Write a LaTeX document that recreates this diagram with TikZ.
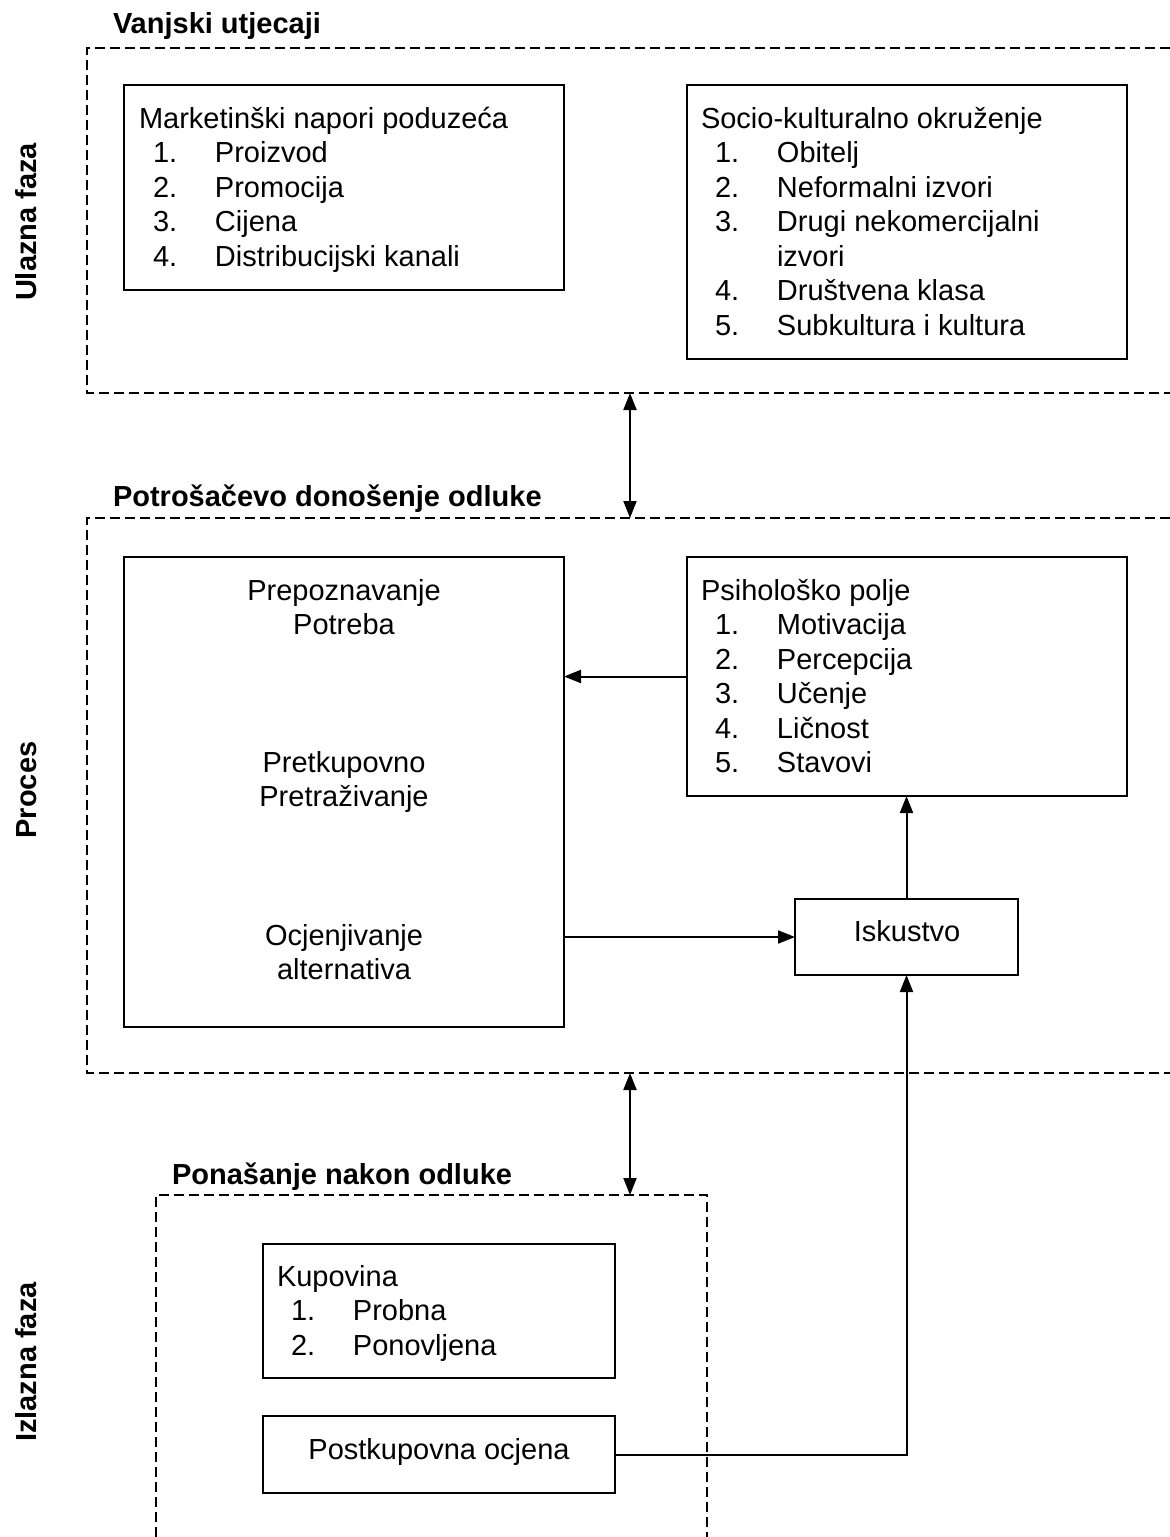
\documentclass[tikz,border=0pt]{standalone}
\usepackage{fontspec}
\setmainfont{Liberation Sans}
\usetikzlibrary{arrows.meta}
\tikzset{
  box/.style={draw, line width=1pt, rectangle, inner sep=0pt, outer sep=0pt},
  txt/.style={inner sep=0pt, outer sep=0pt, font=\fontsize{14.5}{17.25}\selectfont},
  ttl/.style={inner sep=0pt, outer sep=0pt, font=\fontsize{14.5}{17.25}\selectfont\bfseries},
  cont/.style={dash pattern=on 5pt off 2.5pt, line width=0.6pt},
  arr/.style={line width=1pt, -{Triangle[length=8.5pt,width=6.5pt]}},
  darr/.style={line width=1pt, {Triangle[length=8.5pt,width=6.5pt]}-{Triangle[length=8.5pt,width=6.5pt]}}
}
\newcommand{\lst}[2]{\begin{tabular}[t]{@{\hspace{7pt}}p{31pt}@{}l@{}}\multicolumn{2}{@{}l@{}}{#1}\\#2\end{tabular}}
\begin{document}
\begin{tikzpicture}[x=0.5pt,y=-0.5pt]
\useasboundingbox (0,0) rectangle (1170,1537);
\fill[white] (0,0) rectangle (1170,1537);

% containers
\draw[cont] (1170,48) -- (87,48) -- (87,393) -- (1170,393);
\draw[cont] (1170,518) -- (87,518) -- (87,1073) -- (1170,1073);
\draw[cont] (156,1537) -- (156,1195) -- (707,1195) -- (707,1537);
\coordinate (c1a) at (630,393);
\coordinate (c1b) at (630,518);
\coordinate (c2a) at (630,1073);
\coordinate (c2b) at (630,1195);

% titles
\node[ttl, anchor=base west] (t1) at (113,33) {Vanjski utjecaji};
\node[ttl, anchor=base west] (t2) at (113,506) {Potrošačevo donošenje odluke};
\node[ttl, anchor=base west] (t3) at (172,1184) {Ponašanje nakon odluke};

\node[ttl, rotate=90, anchor=base] (v1) at (36,222) {Ulazna faza};
\node[ttl, rotate=90, anchor=base] (v2) at (36,790) {Proces};
\node[ttl, rotate=90, anchor=base] (v3) at (36,1362) {Izlazna faza};

% boxes
\node[box, minimum width=220pt, minimum height=102.5pt] (mk) at (344,187.5) {};
\node[box, minimum width=220pt, minimum height=137pt] (sc) at (907,222) {};
\node[box, minimum width=220pt, minimum height=235pt] (dec) at (344,792) {};
\node[box, minimum width=220pt, minimum height=119.5pt] (psi) at (907,676.5) {};
\node[box, minimum width=111.5pt, minimum height=38pt] (isk) at (906.5,937) {};
\node[box, minimum width=176pt, minimum height=67pt] (kup) at (439,1311) {};
\node[box, minimum width=176pt, minimum height=38.5pt] (post) at (439,1454.5) {};

% texts
\node[txt, anchor=base west] (mkt) at (139,128) {\lst{Marketinški napori poduzeća}{1.&Proizvod\\2.&Promocija\\3.&Cijena\\4.&Distribucijski kanali}};
\node[txt, anchor=base west] (sct) at (701,128) {\lst{Socio-kulturalno okruženje}{1.&Obitelj\\2.&Neformalni izvori\\3.&Drugi nekomercijalni\\&izvori\\4.&Društvena klasa\\5.&Subkultura i kultura}};
\node[txt, anchor=base west] (psit) at (701,600) {\lst{Psihološko polje}{1.&Motivacija\\2.&Percepcija\\3.&Učenje\\4.&Ličnost\\5.&Stavovi}};
\node[txt, anchor=base west] (kupt) at (277,1286) {\lst{Kupovina}{1.&Probna\\2.&Ponovljena}};

\node[txt, anchor=base] (d1) at (344,600) {\begin{tabular}[t]{@{}c@{}}Prepoznavanje\\Potreba\end{tabular}};
\node[txt, anchor=base] (d2) at (344,772) {\begin{tabular}[t]{@{}c@{}}Pretkupovno\\Pretraživanje\end{tabular}};
\node[txt, anchor=base] (d3) at (344,945) {\begin{tabular}[t]{@{}c@{}}Ocjenjivanje\\alternativa\end{tabular}};
\node[txt, anchor=base] (iskt) at (907,941) {Iskustvo};
\node[txt, anchor=base] (postt) at (439,1459) {Postkupovna ocjena};

% connectors
\draw[darr] (c1a) -- (c1b);
\draw[darr] (c2a) -- (c2b);
\draw[arr] (psi.west) -- (psi.west -| dec.east);
\draw[arr] (isk.north) -- (isk.north |- psi.south);
\draw[arr] (isk.west -| dec.east) -- (isk.west);
\draw[arr] (post.east) -| (isk.south);
\end{tikzpicture}
\end{document}
